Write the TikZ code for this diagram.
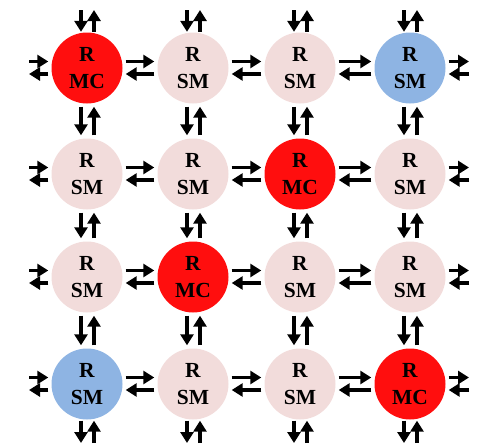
\documentclass[tikz,border=0pt]{standalone}
\usepackage{fontspec}
\setmainfont{Liberation Serif}
\usetikzlibrary{arrows.meta}
\definecolor{mcred}{RGB}{255,14,14}
\definecolor{smpink}{RGB}{242,220,219}
\definecolor{smblue}{RGB}{142,180,227}
\begin{document}
\begin{tikzpicture}[x=1pt,y=-1pt,
  router/.style={circle, minimum size=71pt, inner sep=0pt, draw=none,
    font=\fontsize{21.5}{27.5}\selectfont\bfseries, align=center},
  mc/.style={router, fill=mcred},
  sm/.style={router, fill=smpink},
  smb/.style={router, fill=smblue},
  arr/.style={line width=3.1pt, -{Triangle[width=13pt,length=11pt]}},
]
\useasboundingbox (0,0) rectangle (483,445);
% routers
\node[mc]  (n11) at (87,68)   {R\\MC};
\node[sm]  (n12) at (193,68)  {R\\SM};
\node[sm]  (n13) at (300,68)  {R\\SM};
\node[smb] (n14) at (410,68)  {R\\SM};
\node[sm]  (n21) at (87,174)  {R\\SM};
\node[sm]  (n22) at (193,174) {R\\SM};
\node[mc]  (n23) at (300,174) {R\\MC};
\node[sm]  (n24) at (410,174) {R\\SM};
\node[sm]  (n31) at (87,277)  {R\\SM};
\node[mc]  (n32) at (193,277) {R\\MC};
\node[sm]  (n33) at (300,277) {R\\SM};
\node[sm]  (n34) at (410,277) {R\\SM};
\node[smb] (n41) at (87,384)  {R\\SM};
\node[sm]  (n42) at (193,384) {R\\SM};
\node[sm]  (n43) at (300,384) {R\\SM};
\node[mc]  (n44) at (410,384) {R\\MC};
% free ends
\coordinate (L1) at (29,68);  \coordinate (R1) at (469,68);
\coordinate (L2) at (29,174); \coordinate (R2) at (469,174);
\coordinate (L3) at (29,277); \coordinate (R3) at (469,277);
\coordinate (L4) at (29,384); \coordinate (R4) at (469,384);
\coordinate (T1) at (87,10);  \coordinate (B1) at (87,443);
\coordinate (T2) at (193,10); \coordinate (B2) at (193,443);
\coordinate (T3) at (300,10); \coordinate (B3) at (300,443);
\coordinate (T4) at (410,10); \coordinate (B4) at (410,443);
% horizontal links
\foreach \r in {1,...,4}{
  \foreach \c/\d in {1/2,2/3,3/4}{
    \draw[arr, shorten <=3pt, shorten >=3pt] ([yshift=6.5pt]n\r\c.east) -- ([yshift=6.5pt]n\r\d.west);
    \draw[arr, shorten <=3pt, shorten >=3pt] ([yshift=-6pt]n\r\d.west) -- ([yshift=-6pt]n\r\c.east);
  }
  \draw[arr, shorten >=3pt] ([yshift=6.5pt]L\r) -- ([yshift=6.5pt]n\r1.west);
  \draw[arr, shorten <=3pt] ([yshift=-6pt]n\r1.west) -- ([yshift=-6pt]L\r);
  \draw[arr, shorten <=3pt] ([yshift=6.5pt]n\r4.east) -- ([yshift=6.5pt]R\r);
  \draw[arr, shorten >=3pt] ([yshift=-6pt]R\r) -- ([yshift=-6pt]n\r4.east);
}
% vertical links
\foreach \c in {1,...,4}{
  \foreach \r/\s in {1/2,2/3,3/4}{
    \draw[arr, shorten <=3pt, shorten >=3pt] ([xshift=-6pt]n\r\c.south) -- ([xshift=-6pt]n\s\c.north);
    \draw[arr, shorten <=3pt, shorten >=3pt] ([xshift=7pt]n\s\c.north) -- ([xshift=7pt]n\r\c.south);
  }
  \draw[arr, shorten >=0.5pt] ([xshift=-6pt]T\c) -- ([xshift=-6pt]n1\c.north);
  \draw[arr, shorten <=0.5pt] ([xshift=7pt]n1\c.north) -- ([xshift=7pt]T\c);
  \draw[arr, shorten <=1pt] ([xshift=-6pt]n4\c.south) -- ([xshift=-6pt]B\c);
  \draw[arr, shorten >=1pt] ([xshift=7pt]B\c) -- ([xshift=7pt]n4\c.south);
}
\end{tikzpicture}
\end{document}
